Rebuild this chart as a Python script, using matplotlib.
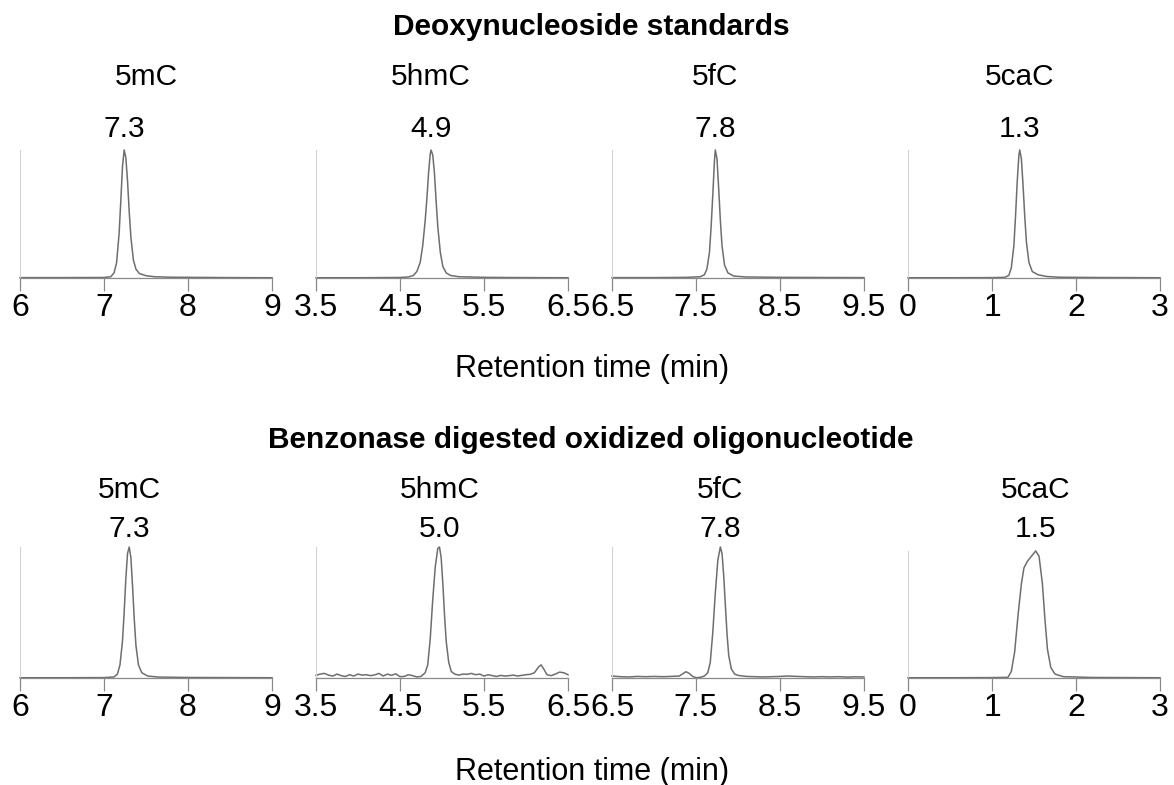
import numpy as np
import matplotlib.pyplot as plt
from matplotlib.transforms import blended_transform_factory

plt.rcParams["font.family"] = ["Liberation Sans", "DejaVu Sans"]

W, H = 1174, 785

compounds = ["5mC", "5hmC", "5fC", "5caC"]
x_ranges = [(6, 9), (3.5, 6.5), (6.5, 9.5), (0, 3)]
x_ticks = [[6, 7, 8, 9], [3.5, 4.5, 5.5, 6.5], [6.5, 7.5, 8.5, 9.5], [0, 1, 2, 3]]

std_labels = ["7.3", "4.9", "7.8", "1.3"]
dig_labels = ["7.3", "5.0", "7.8", "1.5"]

# ---- deoxynucleoside standards (relative intensity) ----
std_5mC_t = [6.00, 6.50, 7.00, 7.08, 7.12, 7.15, 7.18, 7.20, 7.22, 7.24, 7.26, 7.28,
             7.30, 7.32, 7.35, 7.38, 7.42, 7.50, 7.60, 7.80, 8.50, 9.00]
std_5mC_y = [0.003, 0.003, 0.004, 0.01, 0.04, 0.12, 0.35, 0.60, 0.87, 1.00, 0.94, 0.76,
             0.52, 0.32, 0.14, 0.07, 0.035, 0.018, 0.010, 0.006, 0.003, 0.002]

std_5hmC_t = [3.50, 4.00, 4.50, 4.60, 4.66, 4.70, 4.74, 4.77, 4.80, 4.82, 4.84, 4.86,
              4.87, 4.89, 4.91, 4.93, 4.95, 4.98, 5.01, 5.05, 5.10, 5.20, 5.50, 6.00, 6.50]
std_5hmC_y = [0.002, 0.002, 0.004, 0.008, 0.02, 0.05, 0.12, 0.25, 0.45, 0.62, 0.82, 0.97,
              1.00, 0.96, 0.82, 0.60, 0.40, 0.20, 0.09, 0.04, 0.02, 0.01, 0.005, 0.003, 0.002]

std_5fC_t = [6.50, 7.00, 7.40, 7.55, 7.60, 7.63, 7.66, 7.68, 7.70, 7.72, 7.73, 7.75,
             7.77, 7.79, 7.81, 7.84, 7.88, 7.95, 8.10, 8.50, 9.50]
std_5fC_y = [0.003, 0.003, 0.005, 0.01, 0.025, 0.07, 0.20, 0.40, 0.65, 0.92, 1.00, 0.93,
             0.70, 0.45, 0.25, 0.10, 0.04, 0.015, 0.008, 0.005, 0.003]

std_5caC_t = [0.00, 0.50, 1.00, 1.15, 1.20, 1.23, 1.26, 1.28, 1.30, 1.32, 1.33, 1.35,
              1.37, 1.39, 1.41, 1.44, 1.48, 1.55, 1.65, 1.80, 2.20, 3.00]
std_5caC_y = [0.002, 0.002, 0.003, 0.005, 0.02, 0.08, 0.25, 0.48, 0.75, 0.96, 1.00, 0.93,
              0.72, 0.48, 0.28, 0.12, 0.05, 0.025, 0.012, 0.006, 0.004, 0.002]

# ---- benzonase digested oxidized oligonucleotide ----
dig_5mC_t = [6.00, 6.50, 7.00, 7.12, 7.16, 7.19, 7.22, 7.24, 7.26, 7.28, 7.30, 7.32,
             7.34, 7.36, 7.38, 7.41, 7.45, 7.52, 7.65, 8.00, 9.00]
dig_5mC_y = [0.002, 0.002, 0.003, 0.008, 0.03, 0.10, 0.28, 0.50, 0.76, 0.95, 1.00, 0.92,
             0.70, 0.45, 0.25, 0.10, 0.04, 0.015, 0.007, 0.004, 0.002]

dig_5hmC_t = [3.50, 3.55, 3.60, 3.65, 3.70, 3.75, 3.80, 3.85, 3.90, 3.95, 4.00, 4.05,
              4.10, 4.15, 4.20, 4.25, 4.30, 4.35, 4.40, 4.45, 4.50, 4.55, 4.60, 4.65,
              4.70, 4.75, 4.80, 4.83, 4.86, 4.89, 4.92, 4.95, 4.97, 4.99, 5.01, 5.03,
              5.05, 5.08, 5.11, 5.15, 5.20, 5.25, 5.30, 5.35, 5.40, 5.45, 5.50, 5.55,
              5.60, 5.65, 5.70, 5.75, 5.80, 5.85, 5.90, 5.95, 6.00, 6.05, 6.10, 6.15,
              6.18, 6.21, 6.25, 6.30, 6.35, 6.40, 6.45, 6.50]
dig_5hmC_y = [0.020, 0.030, 0.035, 0.022, 0.015, 0.030, 0.018, 0.012, 0.025, 0.015, 0.030, 0.022,
              0.025, 0.018, 0.024, 0.035, 0.015, 0.030, 0.020, 0.032, 0.010, 0.012, 0.025, 0.018,
              0.008, 0.012, 0.040, 0.10, 0.30, 0.60, 0.85, 0.99, 1.00, 0.92, 0.72, 0.48,
              0.28, 0.12, 0.05, 0.030, 0.022, 0.030, 0.028, 0.035, 0.025, 0.030, 0.015, 0.025,
              0.018, 0.012, 0.020, 0.015, 0.018, 0.022, 0.015, 0.020, 0.025, 0.028, 0.040, 0.085,
              0.100, 0.070, 0.025, 0.018, 0.030, 0.045, 0.040, 0.025]

dig_5fC_t = [6.50, 6.60, 6.70, 6.80, 6.90, 7.00, 7.10, 7.20, 7.30, 7.35, 7.38, 7.42,
             7.46, 7.50, 7.55, 7.60, 7.64, 7.67, 7.70, 7.73, 7.76, 7.79, 7.81, 7.83,
             7.85, 7.87, 7.89, 7.92, 7.96, 8.00, 8.10, 8.20, 8.30, 8.40, 8.50, 8.60,
             8.70, 8.80, 8.90, 9.00, 9.10, 9.20, 9.30, 9.40, 9.50]
dig_5fC_y = [0.015, 0.010, 0.008, 0.012, 0.010, 0.012, 0.010, 0.012, 0.015, 0.035, 0.048, 0.035,
             0.012, 0.002, 0.005, 0.015, 0.04, 0.12, 0.35, 0.65, 0.90, 1.00, 0.95, 0.78,
             0.55, 0.33, 0.17, 0.07, 0.03, 0.020, 0.012, 0.010, 0.008, 0.010, 0.012, 0.015,
             0.012, 0.010, 0.008, 0.010, 0.008, 0.010, 0.007, 0.009, 0.008]

dig_5caC_t = [0.00, 0.50, 1.00, 1.19, 1.23, 1.27, 1.31, 1.35, 1.38, 1.42, 1.47, 1.52,
              1.56, 1.60, 1.63, 1.66, 1.70, 1.75, 1.85, 2.20, 3.00]
dig_5caC_y = [0.002, 0.002, 0.003, 0.005, 0.05, 0.20, 0.48, 0.72, 0.84, 0.89, 0.93, 0.97,
              0.93, 0.72, 0.45, 0.22, 0.08, 0.03, 0.01, 0.004, 0.002]

std_traces = [(std_5mC_t, std_5mC_y), (std_5hmC_t, std_5hmC_y),
              (std_5fC_t, std_5fC_y), (std_5caC_t, std_5caC_y)]
dig_traces = [(dig_5mC_t, dig_5mC_y), (dig_5hmC_t, dig_5hmC_y),
              (dig_5fC_t, dig_5fC_y), (dig_5caC_t, dig_5caC_y)]

# ------------------------------------------------------------
# Layout (pixel positions from the top-left corner)
# ------------------------------------------------------------
panel_left = [20, 316, 612, 908]
panel_w = 252

rows = [
    dict(title="Deoxynucleoside standards", title_y=35, name_y=85, val_y=137,
         top=150, bottom=278, xlabel_y=377, traces=std_traces, labels=std_labels,
         name_x=[7.5, None, None, None]),
    dict(title="Benzonase digested oxidized oligonucleotide", title_y=448, name_y=498,
         val_y=537, top=547, bottom=678, xlabel_y=780, traces=dig_traces, labels=dig_labels,
         name_x=[None, None, None, None]),
]

trace_col = "#6e6e6e"
axis_col = "#8a8a8a"
yline_col = "#d4d4d4"
FS = 21.5
TICK_FS = 23

fig = plt.figure(figsize=(W / 100, H / 100), dpi=100)


def fy(px):
    return 1 - px / H


for row in rows:
    fig.text(591 / W, fy(row["title_y"]), row["title"], ha="center", va="baseline",
             fontsize=21.5, fontweight="bold")
    fig.text(592 / W, fy(row["xlabel_y"]), "Retention time (min)", ha="center",
             va="baseline", fontsize=22)

    for i, (t, y) in enumerate(row["traces"]):
        ax = fig.add_axes([panel_left[i] / W, fy(row["bottom"]),
                           panel_w / W, (row["bottom"] - row["top"]) / H])
        ax.axhline(0, color="#e6e6e6", lw=0.8, zorder=0)
        ax.plot(t, y, color=trace_col, lw=1.1, clip_on=False)

        ax.set_xlim(*x_ranges[i])
        ax.set_ylim(0, 1)
        ax.set_yticks([])
        ax.set_xticks(x_ticks[i])
        ax.set_xticklabels([f"{v:g}" for v in x_ticks[i]], fontsize=TICK_FS)
        ax.tick_params(axis="x", direction="out", length=9.5, width=0.9,
                       color=axis_col, pad=1.5)

        for side in ["top", "right"]:
            ax.spines[side].set_visible(False)
        ax.spines["bottom"].set_color(axis_col)
        ax.spines["bottom"].set_linewidth(0.9)
        ax.spines["left"].set_color(yline_col)
        ax.spines["left"].set_linewidth(0.8)
        ax.spines["left"].set_bounds(0, max(y))

        peak_t = t[int(np.argmax(y))]
        name_t = row["name_x"][i] if row["name_x"][i] is not None else peak_t
        tr = blended_transform_factory(ax.transData, fig.transFigure)
        ax.text(name_t, fy(row["name_y"]), compounds[i], transform=tr,
                ha="center", va="baseline", fontsize=FS)
        ax.text(peak_t, fy(row["val_y"]), row["labels"][i], transform=tr,
                ha="center", va="baseline", fontsize=FS)

fig.savefig("out.png", dpi=100)
